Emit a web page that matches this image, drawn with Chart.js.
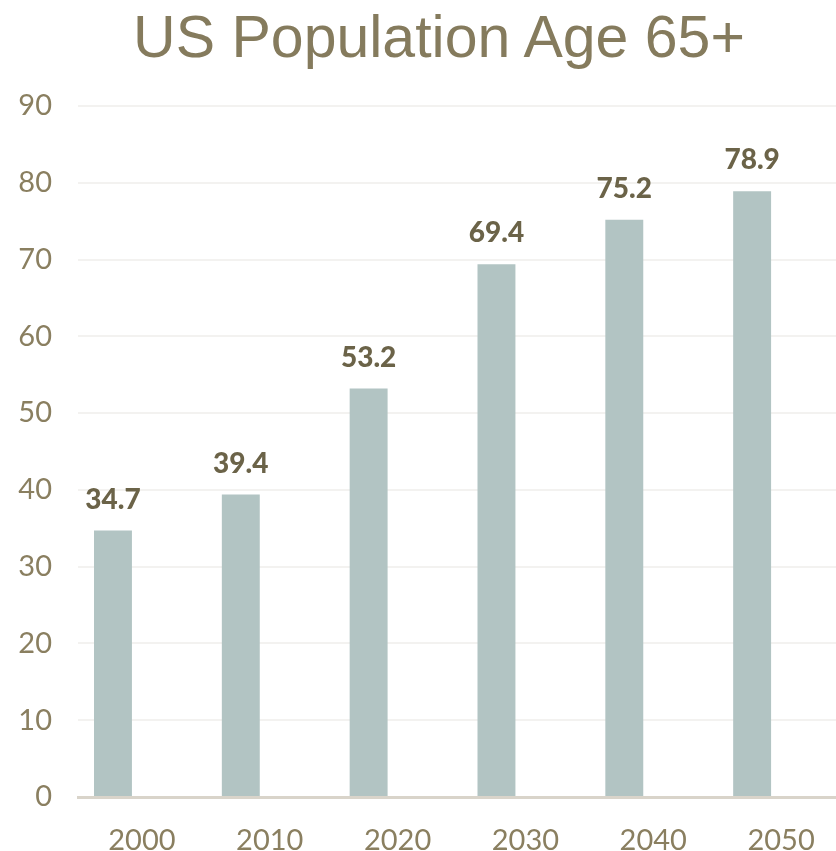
<!DOCTYPE html>
<html>
<head>
<meta charset="utf-8">
<script src="https://cdn.jsdelivr.net/npm/chart.js@4"></script>
<style>
    html, body { margin: 0; padding: 0; background: #fff; overflow: hidden; }
    #wrap { position: relative; width: 878px; height: 851px; }
    #title {
        position: absolute; left: 0; top: 8px; width: 878px;
        text-align: center; font: 59px/59px "Liberation Sans", Arial, sans-serif;
        color: #857b5d; white-space: nowrap;
    }
</style>
</head>
<body>
<div id="wrap">
    <div id="title">US Population Age 65+</div>
    <canvas id="popChart"></canvas>
</div>
<script>
const years = ['2000', '2010', '2020', '2030', '2040', '2050'];
const population = [34.7, 39.4, 53.2, 69.4, 75.2, 78.9];
const emptySlot = [null, null, null, null, null, null];
const yTicks = [0, 10, 20, 30, 40, 50, 60, 70, 80, 90];

// draws the value above each bar of the first dataset
const valueLabels = {
    id: 'valueLabels',
    afterDatasetsDraw(chart) {
        let ctx = chart.ctx;
        let meta = chart.getDatasetMeta(0);
        ctx.save();
        ctx.font = '900 28px Lato, "DejaVu Sans", sans-serif';
        ctx.fillStyle = '#6b6348';
        ctx.textAlign = 'center';
        ctx.textBaseline = 'middle';
        meta.data.forEach((bar, i) => {
            ctx.fillText(population[i].toFixed(1), bar.x, bar.y - 31);
        });
        ctx.restore();
    }
};

let ctx = document.getElementById('popChart').getContext('2d');
let chart = new Chart(ctx, {
    type: 'bar',
    data: {
        labels: years,
        datasets: [{
            label: 'Population 65+ (millions)',
            data: population,
            backgroundColor: '#b2c4c3',
            borderWidth: 0,
            categoryPercentage: 0.906,
            barPercentage: 0.655
        }, {
            label: '',
            data: emptySlot,
            backgroundColor: 'rgba(0,0,0,0)',
            categoryPercentage: 0.906,
            barPercentage: 0.655
        }]
    },
    options: {
        responsive: true,
        maintainAspectRatio: false,
        animation: false,
        layout: { padding: { left: 0, right: 33, top: 106, bottom: 0 } },
        plugins: {
            legend: { display: false },
            tooltip: { enabled: false },
            title: { display: false }
        },
        scales: {
            x: {
                grid: { display: false, drawTicks: false },
                border: { display: true, color: '#d9d4ca', width: 3 },
                ticks: {
                    color: '#8a7f60',
                    font: { family: 'Lato, "DejaVu Sans", sans-serif', size: 29 },
                    padding: 26,
                    maxRotation: 0
                },
                afterFit(scale) { scale.height = 54; }
            },
            y: {
                min: 0,
                max: 90,
                afterBuildTicks(scale) { scale.ticks = yTicks.map(v => ({ value: v })); },
                grid: { color: '#f3f2f0', lineWidth: 2, drawTicks: false },
                border: { display: false },
                ticks: {
                    color: '#8a7f60',
                    font: { family: 'Lato, "DejaVu Sans", sans-serif', size: 29 },
                    padding: 26
                },
                afterFit(scale) { scale.width = 78; }
            }
        }
    },
    plugins: [valueLabels]
});
</script>
</body>
</html>
